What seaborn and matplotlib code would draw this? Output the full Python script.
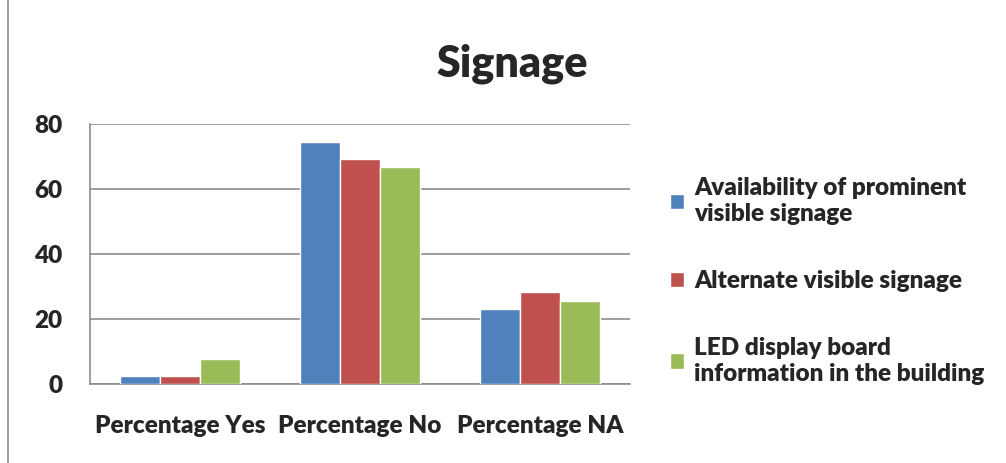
import seaborn as sns
import matplotlib.pyplot as plt
import pandas as pd
from matplotlib.patches import Rectangle

# data
categories = ['Percentage Yes', 'Percentage No', 'Percentage NA']
series = ['Availability of prominent\nvisible signage',
          'Alternate visible signage',
          'LED display board\ninformation in the building']
prominent = [2.56, 74.36, 23.08]
alternate = [2.56, 69.23, 28.21]
led_board = [7.69, 66.67, 25.64]
colors = ['#4F81BD', '#C0504D', '#9BBB59']

rows = []
for name, vals in zip(series, [prominent, alternate, led_board]):
    for cat, v in zip(categories, vals):
        rows.append({'category': cat, 'series': name, 'value': v})
df = pd.DataFrame(rows)

sns.set_style('white')
plt.rcParams['font.family'] = ['Lato', 'DejaVu Sans']

fig = plt.figure(figsize=(10.06, 4.63), dpi=100)
ax = fig.add_axes([90 / 1006, 1 - 384 / 463, 540 / 1006, 260 / 463])

sns.barplot(data=df, x='category', y='value', hue='series', palette=colors,
            width=0.667, saturation=1, ax=ax, zorder=3)

ax.set_ylim(0, 80)
ax.set_yticks([0, 20, 40, 60, 80])
ax.yaxis.grid(True, color='#8c8c8c', linewidth=1.2, zorder=0)
ax.set_xlabel('')
ax.set_ylabel('')
for side in ['top', 'right']:
    ax.spines[side].set_visible(False)
for side in ['left', 'bottom']:
    ax.spines[side].set_color('#8c8c8c')
    ax.spines[side].set_linewidth(1.2)
ax.tick_params(axis='y', labelsize=17.5, pad=20, length=0)
ax.tick_params(axis='x', labelsize=17.5, pad=22, length=0)
for lbl in ax.get_xticklabels() + ax.get_yticklabels():
    lbl.set_fontweight('heavy')

ax.legend_.remove()
handles, labels = ax.get_legend_handles_labels()
leg = fig.legend(handles, labels, loc='center left',
                 bbox_to_anchor=(648 / 1006, 1 - 281 / 463), frameon=False,
                 prop={'size': 17.5, 'weight': 'heavy'}, handlelength=0.6,
                 handleheight=0.6, handletextpad=0.4, labelspacing=1.85)

fig.text(512 / 1006, 1 - 64 / 463, 'Signage', ha='center', va='center',
         fontsize=31, fontweight='heavy')

# chart border
fig.patches.append(Rectangle((8 / 1006, -0.01), 1.5, 1.5, transform=fig.transFigure,
                             fill=False, edgecolor='#8c8c8c', linewidth=1.2))

fig.savefig('out.png', dpi=100)
